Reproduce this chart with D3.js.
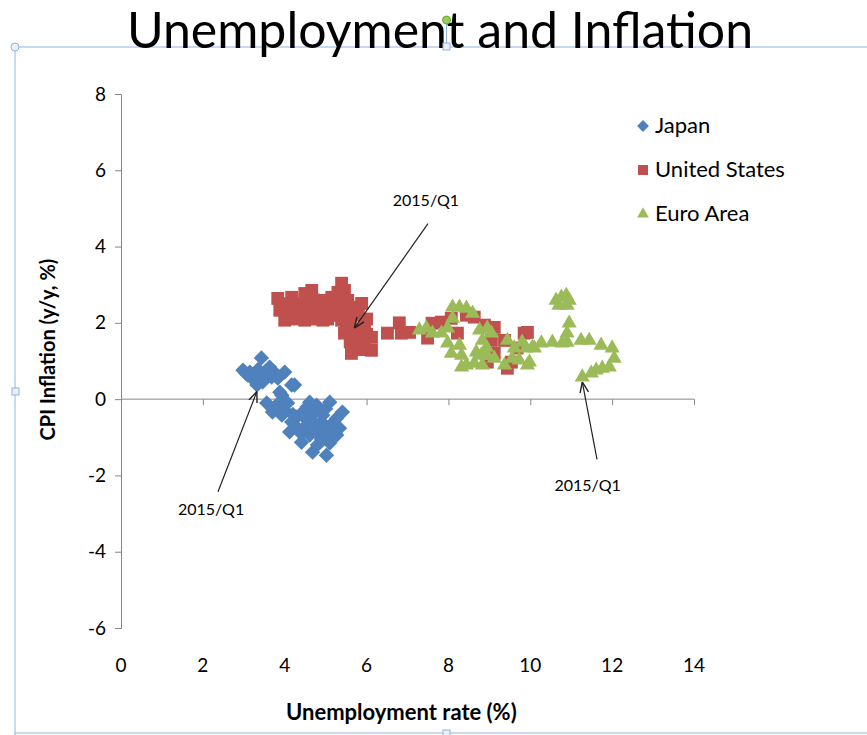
<!DOCTYPE html>
<html>
<head>
<meta charset="utf-8">
<script src="https://cdn.jsdelivr.net/npm/d3@7"></script>
<style>
  body { margin: 0; background: #fff; }
  svg { display: block; }
  text { font-family: Lato, "Open Sans", sans-serif; fill: #000; }
</style>
</head>
<body>
<svg id="chart" width="867" height="735"></svg>
<script>
// ---- data: [unemployment %, CPI inflation y/y %] ----
const japan = [
  [3.43, 1.08], [2.98, 0.76], [3.10, 0.63], [3.27, 0.58], [3.39, 0.50], [3.63, 0.84],
  [3.68, 0.58], [3.56, 0.71], [3.83, 0.55], [4.00, 0.71], [4.24, 0.37], [3.32, 0.37],
  [3.46, 0.45], [3.15, 0.71], [3.93, 0.10], [3.80, -0.16], [3.70, -0.34], [4.00, -0.29],
  [4.07, -0.10], [4.29, -0.47], [4.17, -0.60], [4.12, -0.86], [4.41, -1.13], [4.54, -0.68],
  [4.68, -1.39], [5.02, -1.47], [4.80, -1.20], [5.10, -1.15], [5.27, -0.94], [5.34, -0.76],
  [5.41, -0.34], [5.10, -0.08], [4.78, -0.16], [4.61, -0.08], [4.93, -0.42], [4.66, -0.42],
  [4.44, -0.34], [4.78, -0.68], [5.02, -0.76], [5.17, -0.63], [4.85, -0.94], [4.61, -0.94],
  [5.10, -0.94], [5.27, -0.50], [4.32, -0.76], [3.93, -0.42], [3.56, -0.10], [3.88, 0.18],
  [4.17, 0.37], [3.20, 0.55], [3.50, 0.62], [3.35, 0.78], [3.75, 0.70], [3.05, 0.68],
  [4.50, -0.50], [4.90, -0.60], [4.70, -0.30], [5.20, -0.80], [4.40, -0.90], [4.90, -1.05],
  [4.20, -0.40], [3.90, -0.20], [4.55, -0.20], [5.00, -0.25], [4.75, -0.85]
];
const unitedStates = [
  [3.83, 2.64], [3.88, 2.33], [4.00, 2.07], [4.17, 2.67], [4.32, 2.41], [4.24, 2.15],
  [4.49, 2.77], [4.56, 2.51], [4.66, 2.85], [4.73, 2.25], [4.49, 2.07], [4.90, 2.59],
  [4.98, 2.33], [4.93, 2.07], [5.15, 2.67], [5.22, 2.41], [5.39, 3.04], [5.46, 2.85],
  [5.54, 2.59], [5.71, 2.41], [5.88, 2.51], [5.39, 2.07], [5.46, 1.73], [5.71, 1.81],
  [5.95, 1.88], [6.12, 1.62], [5.71, 1.36], [5.95, 1.47], [5.63, 1.20], [6.12, 1.28],
  [6.51, 1.73], [6.80, 2.00], [6.85, 1.73], [7.05, 1.75], [7.49, 1.60], [7.60, 1.99],
  [7.83, 2.02], [8.07, 2.12], [8.22, 1.73], [8.44, 2.20], [8.63, 2.15], [8.88, 1.94],
  [9.12, 1.88], [9.05, 1.54], [9.37, 1.54], [9.12, 1.20], [8.95, 0.97], [9.44, 0.81],
  [9.54, 0.97], [9.85, 1.73], [9.93, 1.75], [9.68, 1.34],
  [4.00, 2.40], [4.10, 2.20], [4.20, 2.50], [4.40, 2.30], [4.60, 2.30], [4.70, 2.60],
  [4.80, 2.40], [5.00, 2.50], [5.10, 2.20], [5.30, 2.60], [5.30, 2.80], [5.50, 2.30],
  [5.60, 2.10], [5.80, 2.20], [5.50, 1.90], [5.80, 1.60], [6.00, 1.70], [5.90, 1.30],
  [4.30, 2.10], [3.90, 2.50], [4.50, 2.60], [5.05, 2.10], [5.60, 1.50], [6.00, 2.10],
  [5.20, 2.20], [4.80, 2.10]
];
const euroArea = [
  [7.29, 1.81], [7.46, 1.86], [7.61, 1.73], [7.83, 1.73], [7.98, 1.86], [8.10, 2.41],
  [8.27, 2.41], [8.44, 2.38], [8.59, 2.25], [8.10, 2.12], [7.98, 1.47], [8.07, 1.20],
  [8.32, 1.15], [8.27, 1.41], [8.44, 0.89], [8.32, 0.84], [8.63, 0.94], [8.68, 1.23],
  [8.76, 1.81], [8.83, 1.54], [8.95, 1.86], [9.05, 1.73], [8.93, 1.36], [8.80, 1.15],
  [8.95, 1.15], [8.83, 0.89], [9.12, 1.07], [9.37, 0.89], [9.44, 1.54], [9.61, 1.34],
  [9.80, 1.49], [9.73, 1.02], [9.93, 0.89], [10.10, 1.34], [10.27, 1.47], [9.56, 1.07],
  [10.63, 2.59], [10.76, 2.67], [10.88, 2.72], [10.95, 2.59], [10.70, 2.46], [10.90, 2.46],
  [10.95, 1.99], [10.90, 1.73], [10.90, 1.49], [10.78, 1.47], [10.54, 1.49], [10.05, 1.36],
  [11.24, 1.54], [11.44, 1.54], [11.73, 1.41], [12.00, 1.34], [12.05, 1.07], [11.93, 0.84],
  [11.76, 0.81], [11.61, 0.76], [11.49, 0.68], [11.27, 0.58], [9.90, 1.34], [9.98, 0.97]
];

const seriesNames = ["Japan", "United States", "Euro Area"];
const seriesColors = ["#4F81BD", "#C0504D", "#9BBB59"];
const seriesShapes = [d3.symbolDiamond2, d3.symbolSquare, d3.symbolTriangle2];

const xTicks = [0, 2, 4, 6, 8, 10, 12, 14];
const yTicks = [-6, -4, -2, 0, 2, 4, 6, 8];

// 2015/Q1 callouts: arrow tip at the point, label placed in data coords
const callouts = [
  {label: "2015/Q1", tip: [3.32, 0.2], tail: [2.37, -2.43], text: [2.2, -3.05]},
  {label: "2015/Q1", tip: [5.7, 1.86], tail: [7.5, 4.6], text: [7.45, 5.07]},
  {label: "2015/Q1", tip: [11.27, 0.45], tail: [11.63, -1.58], text: [11.4, -2.4]}
];

const svg = d3.select("#chart");
const margin = {top: 94, left: 121};
const innerW = 573, innerH = 534;

const x = d3.scaleLinear().domain([0, 14]).range([margin.left, margin.left + innerW]);
const y = d3.scaleLinear().domain([-6, 8]).range([margin.top + innerH, margin.top]);

// Selection frame left over from the slide
const frame = svg.append("g").attr("stroke", "#8EB4E3").attr("fill", "none");
frame.append("line").attr("x1", 15).attr("x2", 867).attr("y1", 47).attr("y2", 47);
frame.append("line").attr("x1", 15).attr("x2", 15).attr("y1", 47).attr("y2", 735);
frame.append("line").attr("x1", 15).attr("x2", 867).attr("y1", 733).attr("y2", 733);

// Title
svg.append("text")
    .attr("x", 440).attr("y", 48)
    .attr("text-anchor", "middle")
    .style("font-size", "50px")
    .text("Unemployment and Inflation");

// handles
svg.append("circle").attr("cx", 15).attr("cy", 47).attr("r", 4)
    .attr("fill", "#EAF1FA").attr("stroke", "#8EB4E3");
svg.append("rect").attr("x", 443).attr("y", 43).attr("width", 7).attr("height", 7)
    .attr("fill", "#EAF1FA").attr("stroke", "#8EB4E3");
svg.append("line").attr("x1", 446.5).attr("x2", 446.5).attr("y1", 22).attr("y2", 43)
    .attr("stroke", "#8EB4E3");
svg.append("circle").attr("cx", 446.5).attr("cy", 20).attr("r", 4)
    .attr("fill", "#92D050").attr("stroke", "#6FA33A");
svg.append("rect").attr("x", 12).attr("y", 388).attr("width", 7).attr("height", 7)
    .attr("fill", "#EAF1FA").attr("stroke", "#8EB4E3");
svg.append("rect").attr("x", 443).attr("y", 730).attr("width", 7).attr("height", 7)
    .attr("fill", "#EAF1FA").attr("stroke", "#8EB4E3");

// y axis (left, outward ticks)
const yAxis = svg.append("g")
    .attr("transform", `translate(${margin.left},0)`)
    .call(d3.axisLeft(y).tickValues(yTicks).tickSize(6).tickPadding(9).tickFormat(d => String(d)));
yAxis.select(".domain").attr("stroke", "#868686");
yAxis.selectAll(".tick line").attr("stroke", "#868686");
yAxis.selectAll(".tick text")
    .attr("font-family", null)
    .style("font-size", "19px");

// x axis crosses at y = 0, labels sit low
const xAxis = svg.append("g")
    .attr("transform", `translate(0,${y(0)})`)
    .call(d3.axisBottom(x).tickValues(xTicks).tickSize(6).tickFormat(""));
xAxis.select(".domain").attr("stroke", "#868686").attr("d", `M${x(0)},0H${x(14)}`);
xAxis.selectAll(".tick line").attr("stroke", "#868686");

svg.append("g").selectAll("text")
    .data(xTicks)
    .join("text")
    .attr("x", d => x(d))
    .attr("y", y(-6) + 44)
    .attr("text-anchor", "middle")
    .style("font-size", "19px")
    .text(d => d);

// axis titles
svg.append("text")
    .attr("x", x(6.85)).attr("y", 720)
    .attr("text-anchor", "middle")
    .style("font-size", "22px").style("font-weight", "bold")
    .text("Unemployment rate (%)");

svg.append("text")
    .attr("transform", `translate(55,${y(1.3)}) rotate(-90)`)
    .attr("text-anchor", "middle")
    .style("font-size", "20px").style("font-weight", "bold")
    .text("CPI Inflation (y/y, %)");

// markers
const allSeries = [japan, unitedStates, euroArea];
const markerSize = [150, 165, 165];

allSeries.forEach((pts, i) => {
  svg.append("g")
      .attr("class", "series")
      .selectAll("path")
      .data(pts)
      .join("path")
      .attr("transform", d => `translate(${x(d[0])},${y(d[1])})`)
      .attr("d", d3.symbol().type(seriesShapes[i]).size(markerSize[i]))
      .attr("fill", seriesColors[i]);
});

// arrows
svg.append("defs").append("marker")
    .attr("id", "arrow")
    .attr("viewBox", "0 0 10 10")
    .attr("refX", 10).attr("refY", 5)
    .attr("markerWidth", 9).attr("markerHeight", 9)
    .attr("orient", "auto")
  .append("path")
    .attr("d", "M0,1 L10,5 L0,9")
    .attr("fill", "none").attr("stroke", "#222").attr("stroke-width", 1.3);

const ann = svg.append("g");
callouts.forEach(c => {
  ann.append("line")
      .attr("x1", x(c.tail[0])).attr("y1", y(c.tail[1]))
      .attr("x2", x(c.tip[0])).attr("y2", y(c.tip[1]))
      .attr("stroke", "#222").attr("stroke-width", 1.2)
      .attr("marker-end", "url(#arrow)");
  ann.append("text")
      .attr("x", x(c.text[0])).attr("y", y(c.text[1]))
      .attr("text-anchor", "middle")
      .style("font-size", "16px")
      .text(c.label);
});

// legend
const legend = svg.append("g").attr("transform", "translate(643,126)");
seriesNames.forEach((name, i) => {
  const g = legend.append("g").attr("transform", `translate(0,${i * 44})`);
  g.append("path")
      .attr("d", d3.symbol().type(seriesShapes[i]).size(markerSize[i] * 0.6))
      .attr("fill", seriesColors[i]);
  g.append("text")
      .attr("x", 12).attr("y", 7)
      .style("font-size", "22px")
      .text(name);
});
</script>
</body>
</html>
